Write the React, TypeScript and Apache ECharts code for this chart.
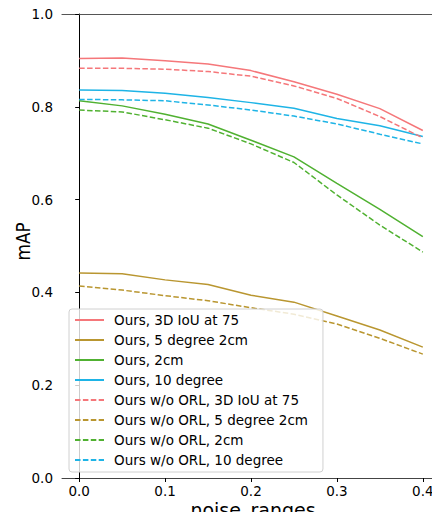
import React, { useEffect, useRef } from "react";
import * as echarts from "echarts";

const noiseRanges = [0, 0.05, 0.1, 0.15, 0.2, 0.25, 0.3, 0.35, 0.4];
const xTicks = [0, 0.1, 0.2, 0.3, 0.4];

const oursIoU75 = [0.904, 0.905, 0.899, 0.892, 0.878, 0.854, 0.827, 0.796, 0.749];
const ours5deg2cm = [0.442, 0.44, 0.427, 0.417, 0.394, 0.379, 0.349, 0.319, 0.282];
const ours2cm = [0.813, 0.802, 0.784, 0.763, 0.728, 0.692, 0.635, 0.579, 0.52];
const ours10deg = [0.836, 0.835, 0.829, 0.82, 0.809, 0.797, 0.775, 0.759, 0.736];
const woIoU75 = [0.883, 0.883, 0.881, 0.876, 0.866, 0.845, 0.818, 0.779, 0.733];
const wo5deg2cm = [0.414, 0.405, 0.393, 0.382, 0.367, 0.353, 0.332, 0.301, 0.267];
const wo2cm = [0.793, 0.789, 0.772, 0.754, 0.72, 0.68, 0.61, 0.545, 0.487];
const wo10deg = [0.816, 0.815, 0.813, 0.804, 0.793, 0.78, 0.763, 0.741, 0.72];

const seriesNames = [
  "Ours, 3D IoU at 75",
  "Ours, 5 degree 2cm",
  "Ours, 2cm",
  "Ours, 10 degree",
  "Ours w/o ORL, 3D IoU at 75",
  "Ours w/o ORL, 5 degree 2cm",
  "Ours w/o ORL, 2cm",
  "Ours w/o ORL, 10 degree",
];
const seriesValues = [oursIoU75, ours5deg2cm, ours2cm, ours10deg, woIoU75, wo5deg2cm, wo2cm, wo10deg];
const palette = ["#f5777a", "#b99630", "#50b131", "#1eb4e6"];

const xLabel = "noise_ranges";
const yLabel = "mAP";

const FONT = "DejaVu Sans";

export default function App() {
  const ref = useRef<HTMLDivElement>(null);
  useEffect(() => {
    if (!ref.current) return;
    const chart = echarts.init(ref.current, undefined, { renderer: "svg" });
    const series = seriesNames.map((name, i) => ({
      name,
      type: "line",
      xAxisIndex: 0,
      yAxisIndex: 0,
      data: noiseRanges.map((x, j) => [x, seriesValues[i][j]]),
      symbol: "none",
      color: palette[i % 4],
      lineStyle: {
        width: 1.5,
        color: palette[i % 4],
        type: i < 4 ? "solid" : [5.5, 2.4],
      },
    }));
    chart.setOption({
      animation: false,
      textStyle: { fontFamily: FONT },
      grid: { left: 62, top: 14, right: -3, bottom: 42, containLabel: false },
      xAxis: [
        {
          type: "value",
          min: -0.02,
          max: 0.42,
          position: "bottom",
          splitLine: { show: false },
          axisLine: { show: true, lineStyle: { color: "#444", width: 1 } },
          axisTick: { show: true, length: 4, customValues: xTicks, lineStyle: { color: "#000" } },
          axisLabel: {
            customValues: xTicks,
            formatter: (v: number) => v.toFixed(1),
            fontSize: 13.5,
            color: "#000",
            margin: 6,
            fontFamily: FONT,
          },
        },
        {
          type: "value",
          min: -0.02,
          max: 0.42,
          position: "top",
          splitLine: { show: false },
          axisLine: { show: true, lineStyle: { color: "#555", width: 1.2 } },
          axisTick: { show: false },
          axisLabel: { show: false },
        },
      ],
      yAxis: {
        type: "value",
        min: 0,
        max: 1,
        interval: 0.2,
        splitLine: { show: false },
        axisLine: { show: true, lineStyle: { color: "#000", width: 1 } },
        axisTick: { show: true, length: 4, lineStyle: { color: "#000" } },
        axisLabel: {
          formatter: (v: number) => v.toFixed(1),
          fontSize: 13.5,
          color: "#000",
          margin: 9,
          fontFamily: FONT,
        },
      },
      legend: {
        orient: "vertical",
        left: 69,
        top: 309,
        data: seriesNames,
        itemWidth: 29,
        itemHeight: 14,
        itemGap: 6,
        padding: [4, 15, 5, 5],
        backgroundColor: "rgba(255,255,255,0.8)",
        borderColor: "#d0d0d0",
        borderWidth: 1,
        borderRadius: 3,
        itemStyle: { opacity: 0, borderWidth: 0 },
        textStyle: { fontSize: 13.5, lineHeight: 14, color: "#000", fontFamily: FONT, padding: [0, 0, 0, 5] },
      },
      graphic: [
        {
          type: "text",
          x: 23.3,
          y: 241.4,
          rotation: Math.PI / 2,
          scaleX: 1,
          scaleY: 1.2,
          style: {
            text: yLabel,
            fontSize: 16.8,
            fontFamily: FONT,
            fill: "#000",
            align: "center",
            verticalAlign: "middle",
          },
        },
        {
          type: "text",
          x: 253,
          y: 510,
          style: {
            text: xLabel,
            fontSize: 19,
            fontFamily: FONT,
            fill: "#000",
            align: "center",
            verticalAlign: "middle",
          },
        },
      ],
      series,
    });
    return () => chart.dispose();
  }, []);
  return <div ref={ref} style={{ width: 440, height: 520, margin: -8 }} />;
}
